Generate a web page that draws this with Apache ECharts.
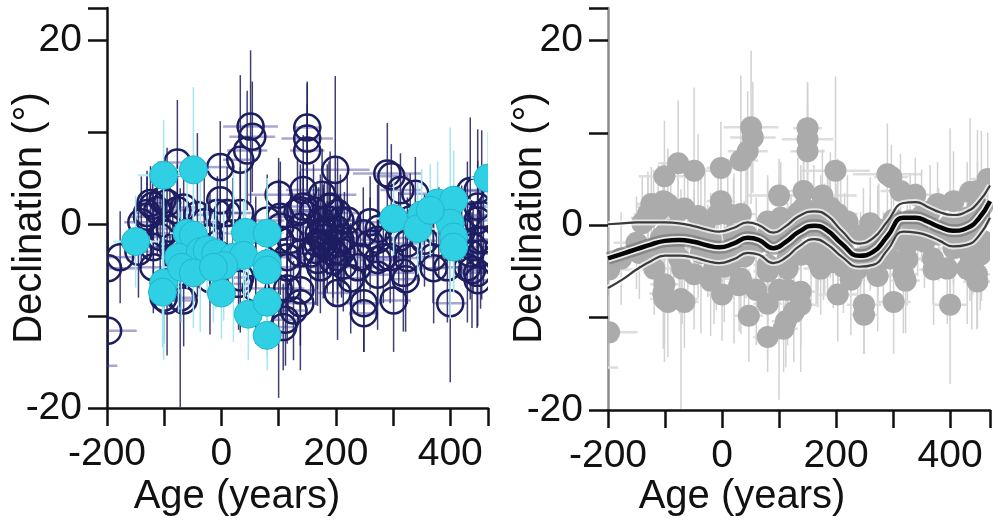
<!DOCTYPE html>
<html>
<head>
<meta charset="utf-8">
<script src="https://cdn.jsdelivr.net/npm/echarts@6/dist/echarts.min.js"></script>
<style>
  html, body { margin: 0; padding: 0; background: #ffffff; }
  #chart { width: 993px; height: 522px; }
</style>
</head>
<body>
<div id="chart"></div>
<script>
// Archaeomagnetic declination data: age (years), declination (deg) and 1-sigma errors.

// Reference records (open markers)
const refAge = [51, 54, 45, 33, 150, 150, 150, 199, -2, -77, 290, 297, 100, 176, 339, 435, 143, 313, 448, 448, 430,
  -124, -120, -112, -103, -95, -130, -130, -77, -66, -42, -7, -2, 10, 33, 80, 103, 103, 103, 121, 115, 115,
  -101, -107, -119, -119, -177, -140, -145, -90, -85, -30, -20, 20, 60, -20, 30, 33, 60,
  133, 138, 143, 161, 173, 188, 190, 203, 208, 220, 138, 178, 190, 168, 178, 203, 208, 185, 195, 180, 200,
  170, 210, 165, 195, 215, 185, 156, 168, 138, 173, 213, 203, 226, 238, 243, 248, 260, 260, 273, 275, 273,
  273, 283, 295, 310, 318, 325, 325, 330, 355, 370, 371, 380, 395, 420, 430, 435, 440, 447, 448, 448, 448,
  455, 458, 453, -101, -95, -72, -66, 100, 115, 126, 138, 138, 108, 112, 203, 249, 249, 301, 322, 400, 438,
  -198, -198, -232];
const refDecl = [10.6, 9.5, 8.0, 7.0, 10.5, 9.3, 8.0, 5.9, 6.2, 6.7, 5.5, 5.2, 3.2, 3.2, 3.3, 3.6, 3.7, 3.7, 3.7, 1.9, 0.8,
  2.3, 2.0, 1.5, 2.6, 2.3, 0.8, 1.2, 1.5, 1.8, 1.0, 1.2, 2.6, 1.2, 1.2, 0.4, 0.8, -0.3, -1.7, -1.7, -3.6, -4.7,
  -1.0, -1.4, -2.5, -4.7, -3.6, 0.2, -3.0, -0.5, -2.5, 0.2, -1.5, -1.0, -2.0, -6.0, -6.5, -5.8, -7.0,
  1.3, 1.5, 1.9, 1.5, 0.4, 1.8, 1.9, 1.2, 0.4, 0.4, -0.3, -0.7, -0.7, -2.1, -2.1, -2.1, -1.7, -2.5, -3.0, -1.5, -0.5,
  -1.0, -3.0, -2.8, -4.0, -1.5, 0.5, -3.2, -3.9, -3.2, -4.7, -4.5, -3.6, -5.9, -4.7, -3.6, -1.0, -2.1, 0.2, -1.7, -0.5, -3.9,
  -5.5, -3.6, -3.6, -1.5, -5.3, -2.1, -3.7, 0.5, -1.8, -3.6, -4.8, -1.0, -4.7, -0.8, -4.7, -3.2, -2.5, -5.3, 0.4, -1.7, -6.1,
  1.0, -1.7, -3.2, -8.0, -8.3, -8.0, -8.3, -7.0, -7.0, -9.4, -8.6, -7.2, -11.2, -10.4, -7.5, -8.6, -9.7, -8.3, -6.0, -8.6, -5.0,
  -4.8, -11.6, -15.4];
const refAgeErr = [48, 40, 35, 30, 25, 45, 30, 60, 25, 35, 60, 30, 55, 60, 30, 25, 30, 35, 30, 25, 30,
  25, 30, 25, 20, 25, 30, 25, 30, 25, 25, 25, 25, 30, 25, 30, 25, 30, 25, 25, 30, 25,
  25, 30, 25, 25, 25, 30, 25, 25, 30, 30, 25, 30, 25, 25, 25, 30, 25,
  30, 25, 30, 25, 30, 30, 25, 35, 25, 30, 30, 25, 30, 25, 30, 25, 30, 25, 30, 25, 30,
  25, 30, 25, 30, 25, 30, 25, 30, 25, 30, 25, 30, 25, 30, 25, 30, 25, 30, 30, 25, 30,
  25, 30, 25, 30, 25, 30, 25, 30, 25, 30, 25, 30, 25, 30, 25, 30, 25, 30, 25, 30, 25,
  30, 25, 30, 25, 25, 30, 25, 25, 30, 25, 30, 25, 25, 25, 35, 30, 25, 30, 25, 30, 25,
  55, 50, 50];
const refDeclErr = [8.3, 6, 6.5, 9.2, 5, 6, 5, 10.2, 5, 6.8, 5.5, 3.5, 4, 5, 4, 8, 6, 4, 6.6, 5, 6,
  4, 4, 5, 4, 6, 5, 4, 5, 5, 8.9, 4, 5, 5, 5, 5, 6, 5, 6, 5, 6, 6,
  5, 5, 6, 5, 5, 5, 5, 6, 5, 6, 5, 6, 5, 6, 5, 6, 6,
  6, 5, 5, 5, 5, 5, 6, 6, 5, 5, 6, 5, 5, 5, 6, 5, 5, 5, 5, 6, 5,
  5, 5, 6, 5, 5, 6, 5, 5, 6, 5, 5, 5, 6, 5, 5, 5, 5, 5, 6, 5, 5,
  6, 5, 5, 5, 6.4, 5, 5, 5, 5, 5, 6, 5, 6, 5, 6, 5, 5, 6, 5, 5, 5,
  9.2, 5, 6, 5, 6, 11.9, 5, 11.9, 6, 5.4, 7.3, 6, 4.7, 5, 5.1, 5.3, 4.2, 5.6, 5.7, 8.6, 6.3,
  5, 4, 0];

// New records (filled markers)
const newAge = [-101, -49, -150, -60, -49, 42, 80, -75, -37, -25, -10, 21, 39, 80, 4, 80, -101, -103, -70, -49,
  0, -14, 47, 80, 80, 301, 350, 378, 406, 400, 406, 406, 466, 343, 365];
const newDecl = [5.3, 5.9, -1.9, -1.0, -1.2, -0.9, -1.0, -3.6, -3.0, -2.8, -3.2, -3.6, -3.4, -4.3, -4.5, -5.0, -6.4, -7.4, -4.7, -5.3,
  -7.5, -4.7, -9.8, -8.5, -12.1, 0.6, 1.0, 2.3, 2.6, 0.1, -1.4, -2.5, 5.0, -0.5, 1.5];
const newAgeErr = [45, 30, 40, 30, 25, 30, 30, 30, 25, 30, 30, 25, 30, 25, 30, 25, 25, 25, 30, 30,
  25, 25, 25, 25, 25, 30, 30, 30, 30, 25, 25, 25, 30, 30, 30];
const newDeclErr = [6, 9, 5, 6, 5, 7, 6, 6, 8.7, 5, 6, 9.2, 6, 6, 6, 6, 8.4, 6, 6, 6,
  5, 6, 5, 6, 3.8, 4, 5, 4.5, 5.4, 10.4, 5, 5, 5, 5, 5];

// Fitted declination curve with its confidence envelope
const curveAge   = [-200, -175, -150, -125, -100, -75, -50, -25, -5, 20, 45, 65, 90, 112, 135, 162, 185, 210, 240, 265, 290, 318, 340, 360, 382, 405, 430, 450, 470];
const curveMid   = [-3.6, -3.1, -2.6, -2.1, -1.7, -1.6, -1.8, -2.2, -2.4, -2.0, -1.35, -1.6, -2.5, -1.8, -0.7, -0.05, -0.6, -2.0, -3.3, -2.9, -1.2, 0.8, 0.8, 0.4, -0.2, -0.6, -0.3, 0.7, 2.6];
const curveUpper = [0.1, 0.2, 0.3, 0.3, 0.3, 0.2, -0.1, -0.5, -0.7, -0.3, 0.3, 0.0, -0.8, -0.1, 1.0, 1.5, 1.0, -0.6, -2.0, -1.4, 0.4, 2.4, 2.5, 2.0, 1.4, 1.1, 1.5, 2.5, 4.3];
const curveLower = [-6.8, -5.9, -4.8, -3.9, -3.3, -3.3, -3.5, -3.9, -4.1, -3.7, -3.0, -3.2, -4.1, -3.5, -2.3, -1.5, -2.1, -3.4, -4.5, -4.3, -2.7, -0.7, -0.8, -1.1, -1.7, -2.3, -2.1, -1.2, 0.8];

// Axis ticks
const yTicks = [-20, -10, 0, 10, 20];
const yLabelled = [-20, 0, 20];
const xLabelled = [-200, 0, 200, 400];

const rows = (a, d, ea, ed) => a.map((v, i) => [v, d[i], ea[i], ed[i]]);
const refRows = rows(refAge, refDecl, refAgeErr, refDeclErr);
const newRows = rows(newAge, newDecl, newAgeErr, newDeclErr);
const allRows = refRows.concat(newRows);
const pairs = (xs, ys) => xs.map((x, i) => [x, ys[i]]);

const FONT = "'Liberation Sans', Arial, sans-serif";

function errorBars(vStyle, hStyle) {
  return function (params, api) {
    const x = api.value(0), y = api.value(1), ex = api.value(2), ey = api.value(3);
    const c = api.coord([x, y]);
    const children = [];
    if (ey > 0) {
      const t = api.coord([x, y + ey]), b = api.coord([x, y - ey]);
      children.push({ type: 'line', shape: { x1: c[0], y1: t[1], x2: c[0], y2: b[1] }, style: vStyle });
    }
    if (ex > 0) {
      const l = api.coord([x - ex, y]), r = api.coord([x + ex, y]);
      children.push({ type: 'line', shape: { x1: l[0], y1: c[1], x2: r[0], y2: c[1] }, style: hStyle });
    }
    return { type: 'group', children };
  };
}

function dots(r, style) {
  return function (params, api) {
    const c = api.coord([api.value(0), api.value(1)]);
    return { type: 'circle', shape: { cx: c[0], cy: c[1], r }, style };
  };
}

function makeX(idx, max, axisColor) {
  return {
    type: 'value', gridIndex: idx, min: -200, max: max, interval: 100,
    axisLine: { show: true, onZero: false, lineStyle: { color: axisColor, width: 2.5 } },
    axisTick: { show: true, inside: false, length: 18, lineStyle: { color: '#111', width: 2.5 } },
    axisLabel: {
      margin: 27, fontSize: 39, color: '#111', fontFamily: FONT,
      formatter: v => (xLabelled.indexOf(v) >= 0 ? String(v) : '')
    },
    splitLine: { show: false }
  };
}
function makeY(idx, axisColor) {
  return {
    type: 'value', gridIndex: idx, min: yTicks[0], max: 23.5, interval: 10,
    axisLine: { show: true, onZero: false, lineStyle: { color: axisColor, width: 2.5 } },
    axisTick: { show: true, inside: false, length: 19, lineStyle: { color: '#111', width: 2.5 } },
    axisLabel: {
      margin: 25, fontSize: 39, color: '#111', fontFamily: FONT,
      formatter: v => (yLabelled.indexOf(v) >= 0 ? String(v) : '')
    },
    splitLine: { show: false }
  };
}

const titleStyle = { fontSize: 40, fill: '#111', fontFamily: FONT };

function curveLayer(ys, color, width, z) {
  return {
    type: 'line', xAxisIndex: 1, yAxisIndex: 1, data: pairs(curveAge, ys), smooth: true,
    showSymbol: false, symbol: 'none', z: z, clip: true, silent: true,
    lineStyle: { color: color, width: width }
  };
}

const option = {
  animation: false,
  backgroundColor: '#ffffff',
  grid: [
    { left: 107, top: 8, width: 381, height: 400 },
    { left: 608, top: 8, width: 385, height: 402 }
  ],
  xAxis: [makeX(0, 466, '#111'), makeX(1, 470, '#111')],
  yAxis: [makeY(0, '#111'), makeY(1, '#8a8a8a')],
  graphic: [
    { type: 'text', x: 237, y: 497, style: Object.assign({ text: 'Age (years)', align: 'center', verticalAlign: 'middle' }, titleStyle) },
    { type: 'text', x: 742, y: 497, style: Object.assign({ text: 'Age (years)', align: 'center', verticalAlign: 'middle' }, titleStyle) },
    { type: 'text', x: 30, y: 218, rotation: Math.PI / 2, style: Object.assign({ text: 'Declination (°)', align: 'center', verticalAlign: 'middle' }, titleStyle) },
    { type: 'text', x: 530, y: 218, rotation: Math.PI / 2, style: Object.assign({ text: 'Declination (°)', align: 'center', verticalAlign: 'middle' }, titleStyle) }
  ],
  series: [
    // left panel
    {
      type: 'custom', xAxisIndex: 0, yAxisIndex: 0, clip: true, z: 2, data: refRows,
      encode: { x: 0, y: 1 },
      renderItem: errorBars({ stroke: 'rgba(30,30,95,0.85)', lineWidth: 1.5 }, { stroke: 'rgba(60,60,150,0.45)', lineWidth: 2.5 })
    },
    {
      type: 'custom', xAxisIndex: 0, yAxisIndex: 0, clip: true, z: 3, data: refRows,
      encode: { x: 0, y: 1 },
      renderItem: dots(13, { fill: 'none', stroke: '#1d1d62', lineWidth: 2.5 })
    },
    {
      type: 'custom', xAxisIndex: 0, yAxisIndex: 0, clip: true, z: 4, data: newRows,
      encode: { x: 0, y: 1 },
      renderItem: errorBars({ stroke: '#a6e6f0', lineWidth: 1.5 }, { stroke: '#b5ecf3', lineWidth: 2 })
    },
    {
      type: 'custom', xAxisIndex: 0, yAxisIndex: 0, clip: true, z: 5, data: newRows,
      encode: { x: 0, y: 1 },
      renderItem: dots(14, { fill: '#2fcfe4', stroke: '#23b6cb', lineWidth: 1 })
    },
    // right panel
    {
      type: 'custom', xAxisIndex: 1, yAxisIndex: 1, clip: true, z: 2, data: allRows,
      encode: { x: 0, y: 1 },
      renderItem: errorBars({ stroke: '#d2d2d2', lineWidth: 1.5 }, { stroke: '#dddddd', lineWidth: 2.5 })
    },
    {
      type: 'custom', xAxisIndex: 1, yAxisIndex: 1, clip: true, z: 3, data: allRows,
      encode: { x: 0, y: 1 },
      renderItem: dots(11, { fill: '#ababab' })
    },
    // confidence envelope, then the fitted curve on a light halo
    curveLayer(curveUpper, 'rgba(255,255,255,0.7)', 6, 6),
    curveLayer(curveLower, 'rgba(255,255,255,0.7)', 6, 6),
    curveLayer(curveUpper, '#3a3a3a', 2.2, 7),
    curveLayer(curveLower, '#3a3a3a', 2.2, 7),
    curveLayer(curveMid, 'rgba(110,110,110,0.6)', 13, 8),
    curveLayer(curveMid, 'rgba(255,255,255,0.85)', 8, 9),
    curveLayer(curveMid, '#050505', 4.5, 10)
  ]
};

const chart = echarts.init(document.getElementById('chart'), null, { renderer: 'canvas' });
chart.setOption(option);
</script>
</body>
</html>
